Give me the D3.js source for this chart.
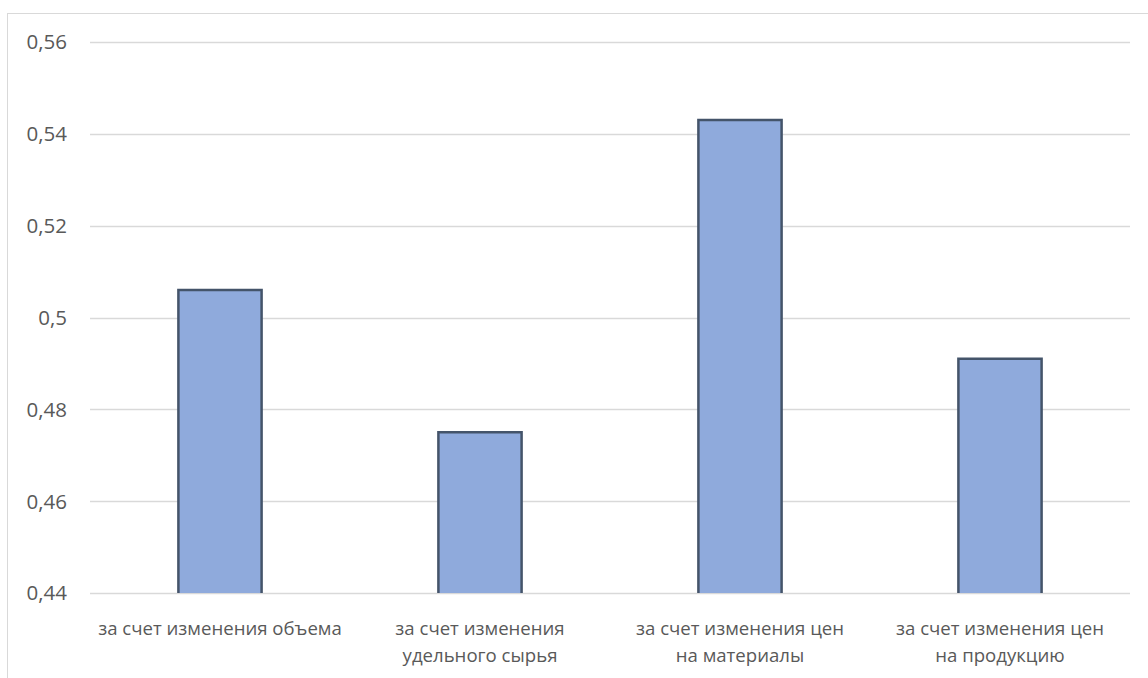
<!DOCTYPE html>
<html>
<head>
<meta charset="utf-8">
<script src="https://cdn.jsdelivr.net/npm/d3@7"></script>
<style>
  html, body { margin: 0; padding: 0; background: #fff; }
  svg { display: block; }
</style>
</head>
<body>
<svg id="chart" width="1148" height="678"></svg>
<script>
// Factor categories (line breaks mark label wrapping)
const categories = [
  "за счет изменения объема",
  "за счет изменения\nудельного сырья",
  "за счет изменения цен\nна материалы",
  "за счет изменения цен\nна продукцию"
];
const values = [0.506, 0.475, 0.543, 0.491];
const yTicks = [0.44, 0.46, 0.48, 0.50, 0.52, 0.54, 0.56];
const yTickLabels = ["0,44", "0,46", "0,48", "0,5", "0,52", "0,54", "0,56"];

const svg = d3.select("#chart");
const W = 1148, H = 678;
const margin = { left: 90, right: 18, top: 42, bottom: 85 };

// Chart frame (extends past the right and bottom edges)
svg.append("rect")
  .attr("x", 7.5).attr("y", 13.5)
  .attr("width", W + 20).attr("height", H + 20)
  .attr("fill", "#fff").attr("stroke", "#d9d9d9").attr("stroke-width", 1);

const x = d3.scaleBand()
  .domain(categories)
  .range([margin.left, W - margin.right])
  .paddingInner(0.68).paddingOuter(0.34);

const y = d3.scaleLinear()
  .domain([0.44, 0.56])
  .range([H - margin.bottom, margin.top]);

const font = "'Open Sans', 'Noto Sans', sans-serif";

// Gridlines
svg.append("g").selectAll("line").data(yTicks).join("line")
  .attr("x1", margin.left).attr("x2", W - margin.right)
  .attr("y1", d => Math.round(y(d)) + 0.5).attr("y2", d => Math.round(y(d)) + 0.5)
  .attr("stroke", "#d9d9d9").attr("stroke-width", 1.5);

// Y axis labels
svg.append("g").selectAll("text").data(yTicks).join("text")
  .attr("x", 67).attr("y", d => y(d))
  .attr("dy", "0.36em")
  .attr("text-anchor", "end")
  .attr("font-family", font).attr("font-size", 20.5)
  .attr("fill", "#595959")
  .text((d, i) => yTickLabels[i]);

// Bars
const bars = svg.append("g").selectAll("g").data(categories).join("g");
bars.append("rect")
  .attr("x", d => x(d))
  .attr("y", (d, i) => y(values[i]))
  .attr("width", x.bandwidth())
  .attr("height", (d, i) => y(0.44) - y(values[i]))
  .attr("fill", "#8faadc");
bars.append("path")
  .attr("d", (d, i) => {
    const x0 = x(d), x1 = x(d) + x.bandwidth(), yt = y(values[i]), yb = y(0.44);
    return `M${x0},${yb}V${yt}H${x1}V${yb}`;
  })
  .attr("fill", "none")
  .attr("stroke", "#44546a")
  .attr("stroke-width", 2.5);

// Category labels
const labels = svg.append("g").selectAll("text").data(categories).join("text")
  .attr("text-anchor", "middle")
  .attr("font-family", font).attr("font-size", 18.6)
  .attr("fill", "#595959");
labels.each(function(d) {
  const lines = d.split("\n");
  d3.select(this).selectAll("tspan").data(lines).join("tspan")
    .attr("x", x(d) + x.bandwidth() / 2)
    .attr("y", (l, j) => 635 + j * 27)
    .text(l => l);
});
</script>
</body>
</html>
